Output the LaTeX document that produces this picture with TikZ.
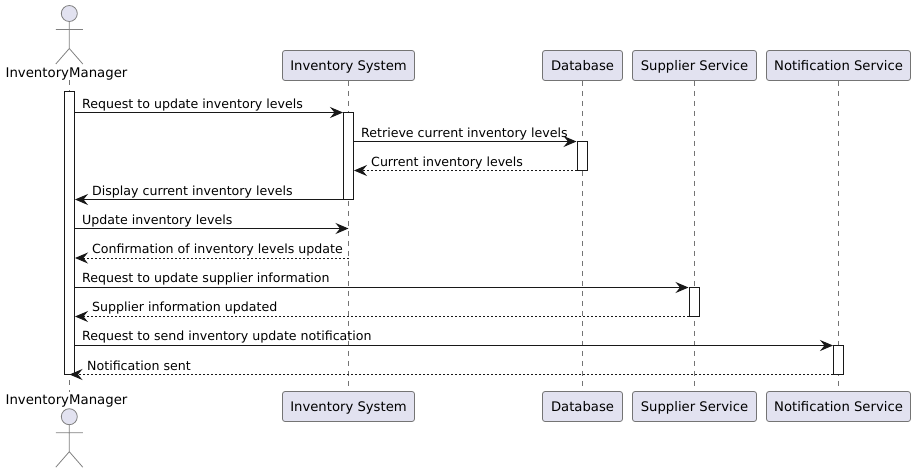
\documentclass[tikz,border=0pt]{standalone}
\usepackage{fontspec}
\setmainfont{DejaVu Sans}
\usetikzlibrary{arrows.meta}
\definecolor{partfill}{HTML}{E2E2F0}
\definecolor{partline}{HTML}{181818}
\tikzset{
	partbox/.style={draw=partline!60, fill=partfill, line width=0.8pt, rounded corners=2.5pt, minimum height=30pt, inner sep=0pt, text height=12pt, text depth=3pt, font=\fontsize{13.2}{16}\selectfont},
	actorname/.style={inner sep=0pt, font=\fontsize{13.3}{16}\selectfont},
	lifeline/.style={draw=partline!60, line width=0.7pt, dash pattern=on 5pt off 5pt},
	actbar/.style={draw=partline, fill=white, line width=1pt, minimum width=10pt, inner sep=0pt},
	msg/.style={draw=partline, line width=1pt, -{Stealth[length=13pt,width=11pt,inset=4.5pt,fill=partline]}},
	reply/.style={msg, dash pattern=on 2pt off 2pt},
	msgtext/.style={inner sep=0pt, anchor=base west, font=\fontsize{12.6}{15}\selectfont},
	actorman/.pic={
		\draw[draw=partline!55, line width=0.8pt, fill=partfill] (0,-8) circle (8);
		\draw[draw=partline!55, line width=0.8pt] (0,-16) -- (0,-43) (-13.5,-24) -- (13.5,-24) (-13.5,-58.5) -- (0,-43) -- (13.5,-58.5);
	}
}
\begin{document}
\begin{tikzpicture}[x=1pt, y=1pt]
	\useasboundingbox (0,0) rectangle (915,-472);
	% participants
	\pic at (69.3,-5.5) {actorman};
	\pic at (69.3,-408.7) {actorman};
	\node[actorname] (MgrTop) at (66.5,-74) {InventoryManager};
	\node[actorname] (MgrBot) at (66.5,-401) {InventoryManager};
	\node[partbox, minimum width=132pt] (InvTop) at (348.5,-65.5) {Inventory System};
	\node[partbox, minimum width=80pt] (DbTop) at (582.5,-65.5) {Database};
	\node[partbox, minimum width=124pt] (SupTop) at (694.5,-65.5) {Supplier Service};
	\node[partbox, minimum width=144pt] (NotTop) at (838.5,-65.5) {Notification Service};
	\node[partbox, minimum width=132pt] (InvBot) at (348.5,-406.5) {Inventory System};
	\node[partbox, minimum width=80pt] (DbBot) at (582.5,-406.5) {Database};
	\node[partbox, minimum width=124pt] (SupBot) at (694.5,-406.5) {Supplier Service};
	\node[partbox, minimum width=144pt] (NotBot) at (838.5,-406.5) {Notification Service};
	% lifelines
	\coordinate (MgrA) at (69.3,-80);
	\coordinate (MgrB) at (69.3,-392);
	\draw[lifeline] (MgrA) -- (MgrB);
	\foreach \p in {Inv,Db,Sup,Not}
		\draw[lifeline] (\p Top) -- (\p Bot);
	% activations
	\node[actbar, minimum height=283.5pt] (MgrBar) at (69.5,-232.75) {};
	\node[actbar, minimum height=87pt] (InvBar) at (348.5,-156) {};
	\node[actbar, minimum height=29pt] (DbBar) at (582,-156) {};
	\node[actbar, minimum height=29pt] (SupBar) at (694,-302) {};
	\node[actbar, minimum height=29pt] (NotBar) at (838.5,-359.75) {};
	% message rows
	\foreach \i/\y in {1/112.5,2/141.5,3/170.5,4/199.5,5/228.5,6/258,7/287.5,8/316.5,9/345.5,10/374.5}
		\coordinate (R\i) at (0,-\y);
	% messages
	\draw[msg] (MgrBar.east |- R1) -- (InvBar.west |- R1);
	\node[msgtext] (T1) at (82,-108) {Request to update inventory levels};
	\draw[msg] (InvBar.east |- R2) -- (DbBar.west |- R2);
	\node[msgtext] (T2) at (361,-137) {Retrieve current inventory levels};
	\draw[reply] (DbBar.west |- R3) -- (InvBar.east |- R3);
	\node[msgtext] (T3) at (371,-166) {Current inventory levels};
	\draw[msg] (InvBar.west |- R4) -- (MgrBar.east |- R4);
	\node[msgtext] (T4) at (92,-195) {Display current inventory levels};
	\draw[msg] (MgrBar.east |- R5) -- (InvBar.center |- R5);
	\node[msgtext] (T5) at (82,-224) {Update inventory levels};
	\draw[reply] (InvBar.center |- R6) -- (MgrBar.east |- R6);
	\node[msgtext] (T6) at (92,-253) {Confirmation of inventory levels update};
	\draw[msg] (MgrBar.east |- R7) -- (SupBar.west |- R7);
	\node[msgtext] (T7) at (82,-282) {Request to update supplier information};
	\draw[reply] (SupBar.west |- R8) -- (MgrBar.east |- R8);
	\node[msgtext] (T8) at (92,-311) {Supplier information updated};
	\draw[msg] (MgrBar.east |- R9) -- (NotBar.west |- R9);
	\node[msgtext] (T9) at (82,-340) {Request to send inventory update notification};
	\draw[reply] (NotBar.west |- R10) -- (MgrBar.center |- R10);
	\node[msgtext] (T10) at (87,-370) {Notification sent};
\end{tikzpicture}
\end{document}
